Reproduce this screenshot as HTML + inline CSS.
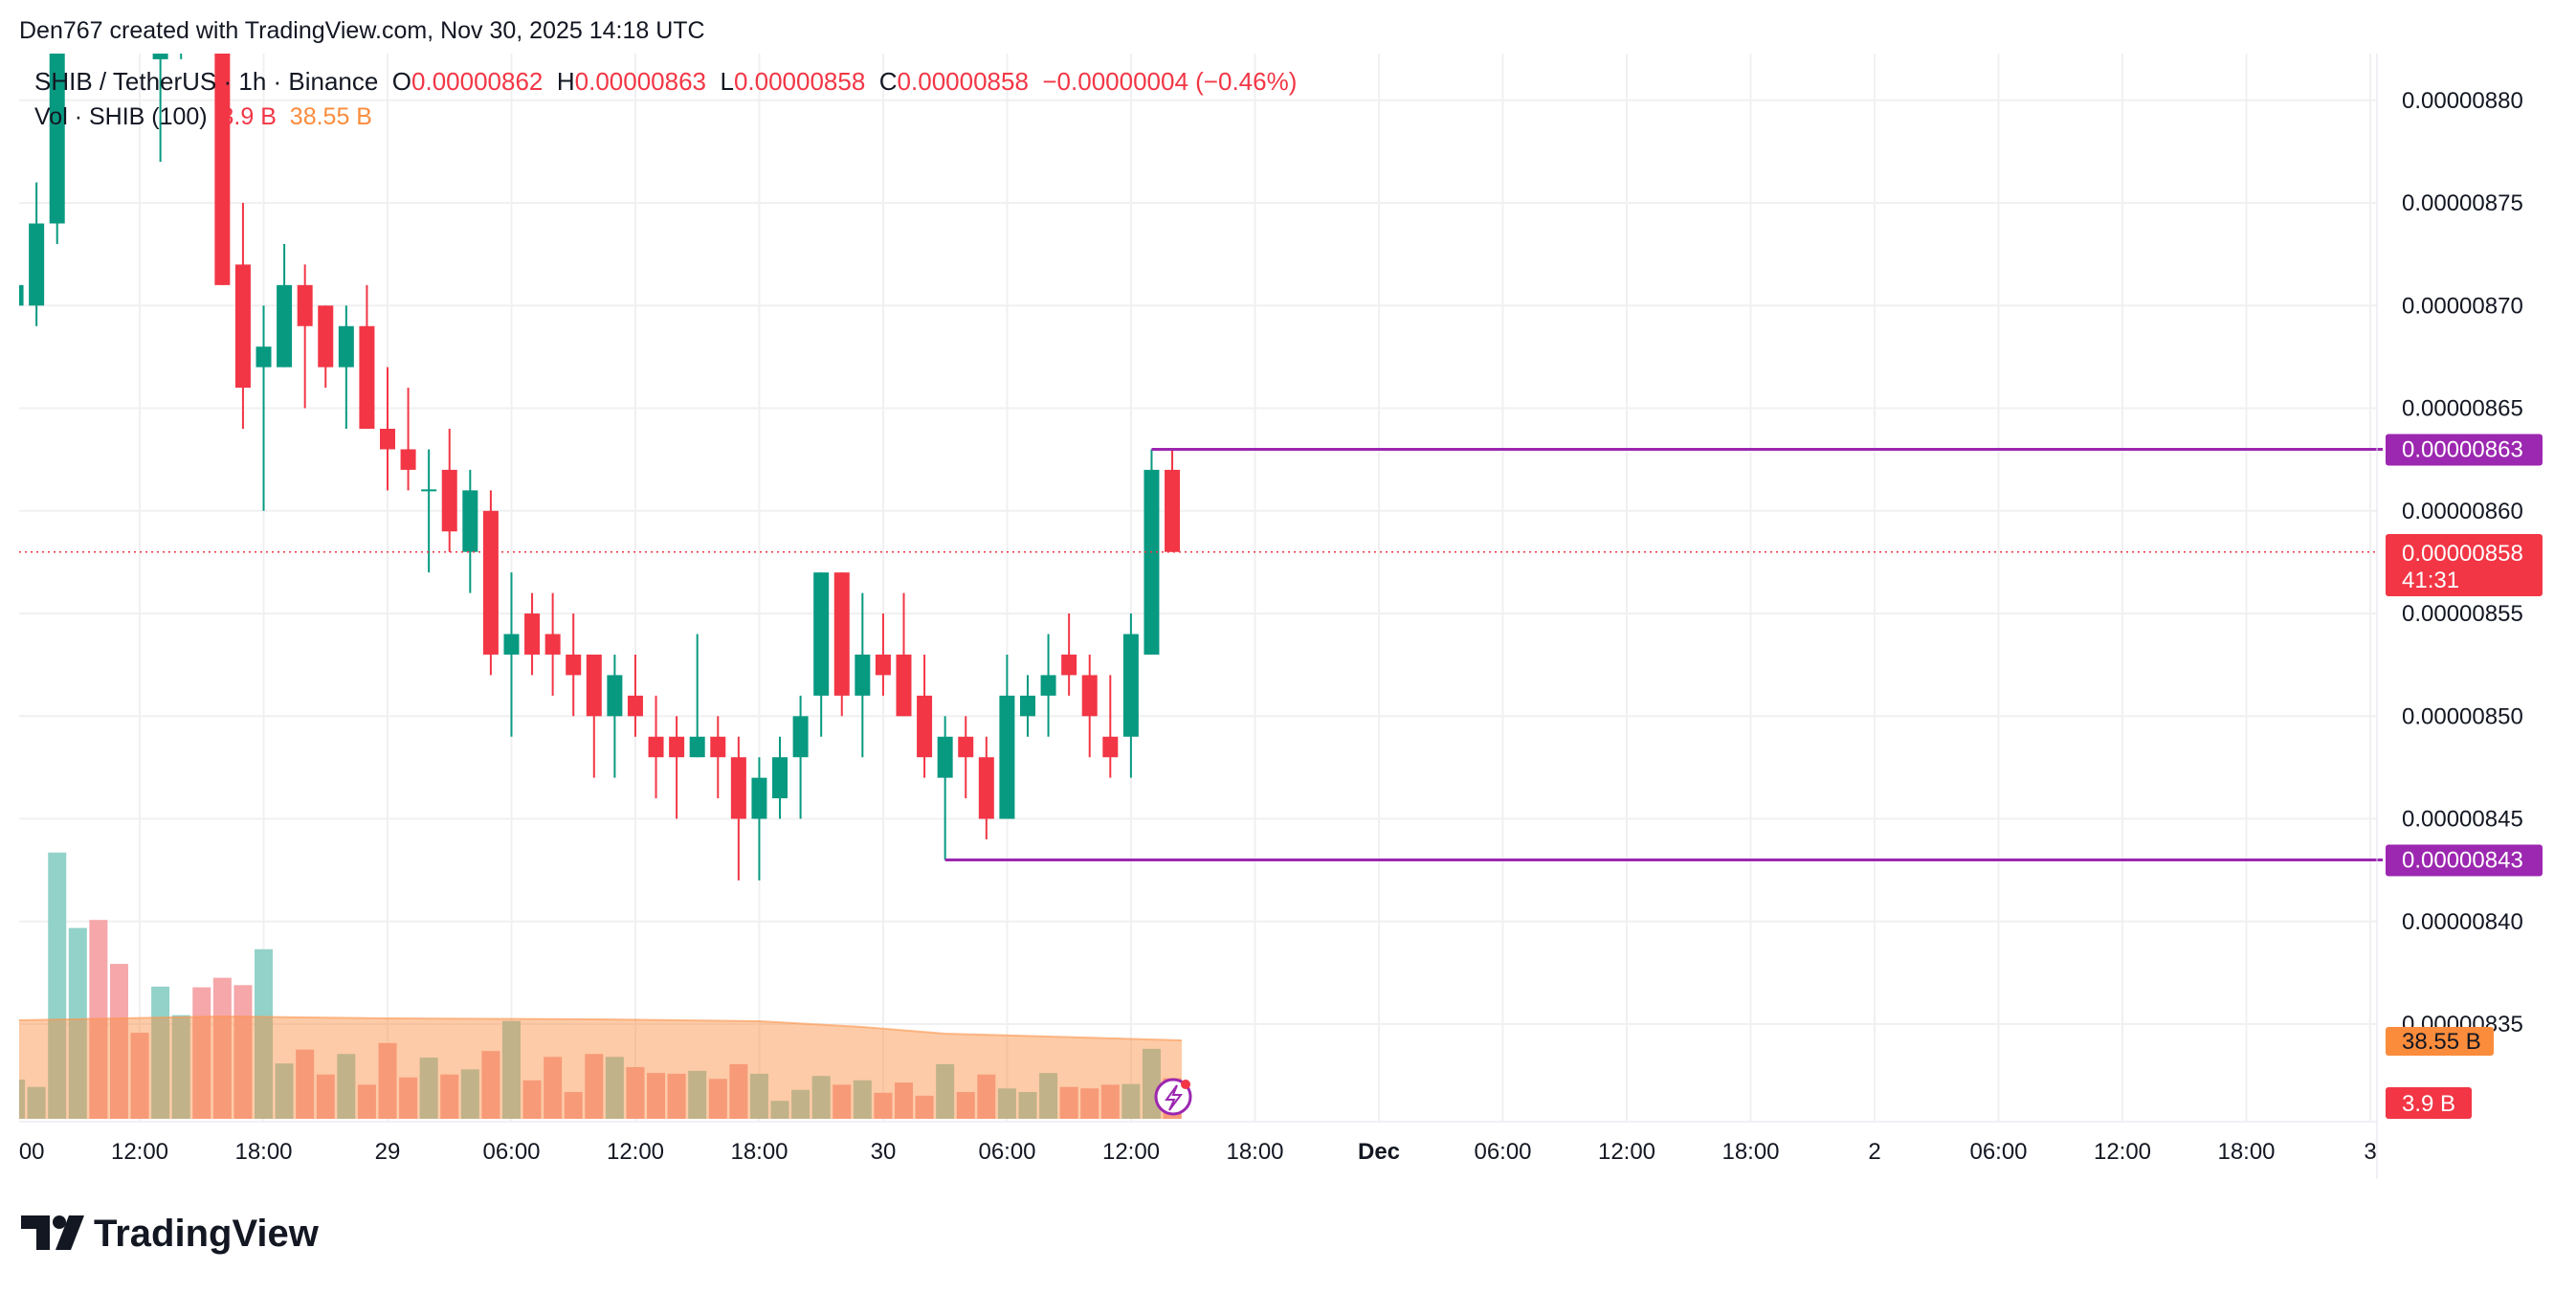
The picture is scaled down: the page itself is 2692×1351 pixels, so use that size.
<!DOCTYPE html>
<html><head><meta charset="utf-8"><style>
body{margin:0;background:#fff;width:2692px;height:1346px;overflow:hidden;font-family:"Liberation Sans",sans-serif;}
text{white-space:pre;}
</style></head><body>
<svg id="s" width="2692" height="1346" xmlns="http://www.w3.org/2000/svg" font-family="Liberation Sans, sans-serif">
<defs><clipPath id="pc"><rect x="20" y="56" width="2464" height="1115"/></clipPath>
<clipPath id="tc"><rect x="20" y="1172" width="2464" height="60"/></clipPath></defs>
<g id="grid"></g>
<g id="vol" clip-path="url(#pc)"></g>
<g id="cand" clip-path="url(#pc)"></g>
<g id="ax"></g>
</svg>
<script>
var s=document.getElementById('s');
function el(t,a,txt,p){var e=document.createElementNS('http://www.w3.org/2000/svg',t);for(var k in a)e.setAttribute(k,a[k]);if(txt!=null)e.textContent=txt;(p||s).appendChild(e);return e;}
var G=document.getElementById('grid'),V=document.getElementById('vol'),C=document.getElementById('cand'),A=document.getElementById('ax');
function Y(p){return 319.3+(870-p)*21.45;}
function X(k){return 405+21.58*k;}
for(var p=880;p>=835;p-=5){el('line',{x1:20,x2:2484,y1:Y(p),y2:Y(p),stroke:'#f0f0f0','stroke-width':2},null,G);}
var tl=['06:00','12:00','18:00','29','06:00','12:00','18:00','30','06:00','12:00','18:00','Dec','06:00','12:00','18:00','2','06:00','12:00','18:00','3'];
for(var m=-3;m<=16;m++){var x=405+129.5*m;if(x>20&&x<2484)el('line',{x1:x,x2:x,y1:56,y2:1171,stroke:'#f0f0f0','stroke-width':2},null,G);}
var TG=el('g',{'clip-path':'url(#tc)'},null,A);
for(var m=-3;m<=16;m++){var x=405+129.5*m;var t=tl[m+3];el('text',{x:x,y:1211,'text-anchor':'middle','font-size':24,fill:'#131722','font-weight':t=='Dec'?'bold':'normal'},t,TG);}
var vy={'-18':1474,'-17':1484,'-16':1164,'-15':1267,'-14':1256,'-13':1316,'-12':1410,'-11':1347,'-10':1386,'-9':1348,'-8':1335,'-7':1345,'-6':1296,'-5':1452,'-4':1433,'-3':1467,'-2':1439,'-1':1481,'0':1424,'1':1471,'2':1444,'3':1467,'4':1460,'5':1435,'6':1394,'7':1475,'8':1443,'9':1491,'10':1439,'11':1443,'12':1457,'13':1465,'14':1466,'15':1462,'16':1473,'17':1453,'18':1466,'19':1503,'20':1488,'21':1469,'22':1481,'23':1475,'24':1492,'25':1478,'26':1496,'27':1453,'28':1491,'29':1467,'30':1486,'31':1491,'32':1465,'33':1484,'34':1486,'35':1481,'36':1480,'37':1432,'38':1472};
var D=[[-18,870,871,871,869],[-17,870,874,876,869],[-16,874,888,890,873],[-15,888,892,894,886],[-14,892,890,895,889],[-13,890,886,891,885],[-12,888,885,889,882.5],[-11,882,885,886,877],[-10,884,886,887,882],[-9,888,885,889,884],[-8,885,871,887,871],[-7,872,866,875,864],[-6,867,868,870,860],[-5,867,871,873,867],[-4,871,869,872,865],[-3,870,867,870,866],[-2,867,869,870,864],[-1,869,864,871,864],[0,864,863,867,861],[1,863,862,866,861],[2,861,861,863,857],[3,862,859,864,858],[4,858,861,862,856],[5,860,853,861,852],[6,853,854,857,849],[7,855,853,856,852],[8,854,853,856,851],[9,853,852,855,850],[10,853,850,853,847],[11,850,852,853,847],[12,851,850,853,849],[13,849,848,851,846],[14,849,848,850,845],[15,848,849,854,848],[16,849,848,850,846],[17,848,845,849,842],[18,845,847,848,842],[19,846,848,849,845],[20,848,850,851,845],[21,851,857,857,849],[22,857,851,857,850],[23,851,853,856,848],[24,853,852,855,851],[25,853,850,856,850],[26,851,848,853,847],[27,847,849,850,843],[28,849,848,850,846],[29,848,845,849,844],[30,845,851,853,845],[31,850,851,852,849],[32,851,852,854,849],[33,853,852,855,851],[34,852,850,853,848],[35,849,848,852,847],[36,849,854,855,847],[37,853,862,863,853],[38,862,858,863,858]];
D.forEach(function(d){var k=d[0],x=X(k),up=d[2]>=d[1];var top=vy[k]/1.3067;
 el('rect',{x:x-9.5,y:top,width:19,height:1169-top,fill:up?'#92d2c9':'#f5a7aa'},null,V);});
var pts=[[20,1066],[X(-8),1062],[X(0),1064],[X(10),1065],[X(18),1067],[X(23),1073],[X(27),1080],[X(32),1083],[X(38)+10,1087],[X(38)+10,1169],[20,1169]];
el('polygon',{points:pts.map(function(q){return q.join(',')}).join(' '),fill:'rgba(251,140,60,0.45)'},null,V);
el('polyline',{points:pts.slice(0,9).map(function(q){return q.join(',')}).join(' '),fill:'none',stroke:'rgba(251,150,80,0.6)','stroke-width':2},null,V);
D.forEach(function(d){var x=X(d[0]),up=d[2]>=d[1],c=up?'#089981':'#f23645';
 el('line',{x1:x,x2:x,y1:Y(d[3]),y2:Y(d[4]),stroke:c,'stroke-width':2},null,C);
 var t=Y(Math.max(d[1],d[2])),b=Y(Math.min(d[1],d[2]));if(b-t<2){t-=1;b+=1;}
 el('rect',{x:x-8,y:t,width:16,height:b-t,fill:c},null,C);});
el('line',{x1:20,x2:2484,y1:Y(858),y2:Y(858),stroke:'#f23645','stroke-width':1.5,'stroke-dasharray':'2,4'},null,A);
el('line',{x1:X(37),x2:2490,y1:Y(863),y2:Y(863),stroke:'#9c27b0','stroke-width':3},null,A);
el('line',{x1:X(27),x2:2490,y1:Y(843),y2:Y(843),stroke:'#9c27b0','stroke-width':3},null,A);
el('line',{x1:2484,x2:2484,y1:56,y2:1232,stroke:'#e0e3eb','stroke-width':1},null,A);
el('line',{x1:20,x2:2484,y1:1172,y2:1172,stroke:'#e0e3eb','stroke-width':1},null,A);
for(var p=880;p>=835;p-=5){el('text',{x:2510,y:Y(p)+8,'font-size':24,fill:'#131722'},'0.00000'+p,A);}
function box(y,h,w,fill){el('rect',{x:2493,y:y,width:w,height:h,fill:fill,rx:3},null,A);}
box(Y(863)-16,33,164,'#9c27b0');el('text',{x:2510,y:Y(863)+8,'font-size':24,fill:'#fff'},'0.00000863',A);
box(Y(843)-16,33,164,'#9c27b0');el('text',{x:2510,y:Y(843)+8,'font-size':24,fill:'#fff'},'0.00000843',A);
box(558,65,164,'#f23645');el('text',{x:2510,y:586,'font-size':24,fill:'#fff'},'0.00000858',A);el('text',{x:2510,y:614,'font-size':24,fill:'#fff'},'41:31',A);
box(1073,30,113,'#fb8c3c');el('text',{x:2510,y:1096,'font-size':24,fill:'#131722'},'38.55 B',A);
box(1136,33,90,'#f23645');el('text',{x:2510,y:1161,'font-size':24,fill:'#fff'},'3.9 B',A);
el('circle',{cx:1226,cy:1146,r:18,fill:'#fff',stroke:'#9c27b0','stroke-width':3},null,A);
el('path',{d:'M1230 1134 L1219 1149 L1227 1149 L1222 1160 L1234 1144 L1226 1144 Z',fill:'none',stroke:'#9c27b0','stroke-width':2},null,A);
el('circle',{cx:1239,cy:1133,r:5,fill:'#f23645'},null,A);
el('text',{x:20,y:40,'font-size':25,fill:'#131722'},'Den767 created with TradingView.com, Nov 30, 2025 14:18 UTC',A);
var h=el('text',{x:36,y:94,'font-size':26,fill:'#131722'},null,A);
[['SHIB / TetherUS · 1h · Binance  O','#131722'],['0.00000862','#f23645'],['  H','#131722'],['0.00000863','#f23645'],['  L','#131722'],['0.00000858','#f23645'],['  C','#131722'],['0.00000858','#f23645'],['  −0.00000004 (−0.46%)','#f23645']].forEach(function(q){el('tspan',{fill:q[1]},q[0],h);});
var v=el('text',{x:36,y:130,'font-size':25,fill:'#131722'},null,A);
[['Vol · SHIB (100)  ','#131722'],['3.9 B','#f23645'],['  38.55 B','#fb8c3c']].forEach(function(q){el('tspan',{fill:q[1]},q[0],v);});
el('path',{d:'M22 1270 h30 v36 h-14 v-22 h-16 z',fill:'#131722'},null,A);
el('circle',{cx:62,cy:1277,r:7,fill:'#131722'},null,A);
el('path',{d:'M72 1270 h16 l-14 36 h-16 z',fill:'#131722'},null,A);
el('text',{x:98,y:1302,'font-size':40,'font-weight':'bold',fill:'#131722'},'TradingView',A);
</script>
</body></html>
